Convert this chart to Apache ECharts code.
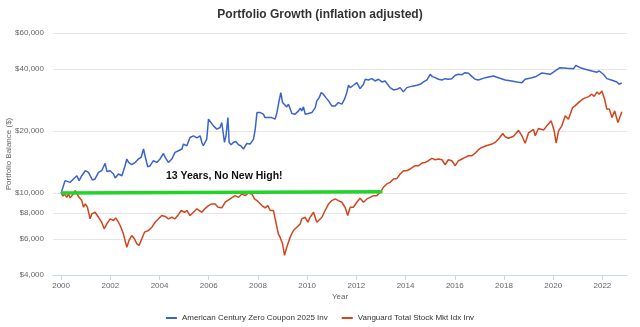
<!DOCTYPE html>
<html>
<head>
<meta charset="utf-8">
<script src="https://cdn.jsdelivr.net/npm/echarts@6/dist/echarts.min.js"></script>
<style>
html,body{margin:0;padding:0;background:#fff;}
#c{width:640px;height:327px;}
</style>
</head>
<body>
<div id="c"></div>
<script>
// ---- Data (decimal year, inflation-adjusted balance in $) ----
const blueName = 'American Century Zero Coupon 2025 Inv';
const redName = 'Vanguard Total Stock Mkt Idx Inv';

const blueDates = [
  2000.00,2000.16,2000.23,2000.37,2000.50,2000.64,2000.73,2000.84,2000.98,
  2001.11,2001.18,2001.27,2001.38,2001.52,2001.65,2001.79,2001.86,2001.99,
  2002.13,2002.20,2002.33,2002.47,2002.60,2002.67,2002.74,2002.87,
  2003.01,2003.14,2003.25,2003.35,2003.41,2003.52,2003.62,2003.75,2003.89,
  2004.02,2004.16,2004.23,2004.36,2004.50,2004.63,2004.77,2004.91,2004.97,
  2005.11,2005.24,2005.38,2005.52,2005.65,2005.72,2005.78,2005.92,2005.99,
  2006.06,2006.19,2006.33,2006.46,2006.53,2006.64,2006.70,2006.78,2006.83,2006.91,
  2007.00,2007.10,2007.21,2007.30,2007.41,2007.55,2007.68,2007.82,2007.89,2007.96,
  2008.09,2008.22,2008.29,2008.43,2008.56,2008.63,2008.70,2008.77,2008.86,2008.93,
  2009.00,2009.08,2009.17,2009.24,2009.38,2009.51,2009.65,2009.72,2009.78,2009.85,2009.92,
  2010.05,2010.19,2010.33,2010.39,2010.49,2010.57,2010.66,2010.76,2010.87,
  2011.00,2011.14,2011.27,2011.34,2011.41,2011.52,2011.61,2011.68,2011.75,2011.88,
  2012.02,2012.15,2012.29,2012.36,2012.49,2012.63,2012.76,2012.90,
  2013.04,2013.17,2013.24,2013.37,2013.51,2013.65,2013.78,2013.91,
  2014.05,2014.19,2014.32,2014.46,2014.59,2014.73,2014.87,
  2015.00,2015.09,2015.20,2015.34,2015.48,2015.61,2015.74,2015.88,
  2016.02,2016.15,2016.29,2016.42,2016.56,2016.70,2016.83,2016.96,
  2017.24,2017.57,2017.80,
  2018.05,2018.32,2018.52,2018.73,2018.86,
  2019.13,2019.31,2019.54,2019.88,
  2020.08,2020.28,2020.56,2020.83,2020.92,
  2021.10,2021.30,2021.57,2021.78,2021.87,
  2022.04,2022.18,2022.39,2022.59,2022.68,2022.79
];
const blueValues = [
  10000,11500,11720,11280,11720,12150,11500,12150,12850,
  12610,12150,11590,11720,12610,12850,13950,12750,12850,
  12390,11850,12390,12150,13590,14650,14100,13740,
  14100,14650,14910,16380,15190,13440,13590,14370,14100,
  14650,15590,14910,14100,14650,15770,16070,16380,17310,
  16990,18630,18990,18570,18990,17630,16990,18310,22880,
  23290,21230,20470,20840,22040,17630,18990,23290,17630,17180,
  17630,17830,17180,16990,16380,17430,17310,18310,20470,24630,
  24630,24200,23290,23290,23290,23740,22880,24630,28070,30790,
  27540,27050,26250,27050,24360,24200,25100,25870,25100,26250,24200,
  24360,24630,26050,28070,29120,30790,30250,29120,28070,
  26540,26540,27540,28070,27050,28610,30790,33440,32550,33440,
  34430,32200,33810,35760,35470,36000,35080,35760,
  34690,35080,35470,32550,31710,31980,32550,31040,
  32550,32930,33180,33440,33810,34690,35470,
  37810,36830,36400,35760,35470,36000,35760,36000,
  37390,37810,37640,38490,38230,36830,35760,35470,
  36400,37100,36270,
  35470,35080,34690,34430,35760,
  36400,36890,38360,37810,
  39230,40700,40410,40250,41800,
  40700,39980,39230,38700,39230,
  37810,36000,35350,34690,33810,34310
];

const redDates = [
  2000.00,2000.08,2000.13,2000.23,2000.30,2000.37,2000.46,2000.57,2000.64,2000.73,2000.84,2000.91,2000.98,
  2001.07,2001.18,2001.25,2001.38,2001.52,2001.65,2001.75,2001.86,2001.99,
  2002.13,2002.22,2002.33,2002.40,2002.53,2002.67,2002.76,2002.87,2002.98,
  2003.08,2003.17,2003.28,2003.39,2003.55,2003.69,2003.82,2003.96,
  2004.09,2004.23,2004.36,2004.50,2004.63,2004.74,2004.88,
  2005.01,2005.11,2005.24,2005.38,2005.52,2005.72,2005.85,2005.99,
  2006.12,2006.26,2006.38,2006.53,2006.67,2006.87,
  2007.07,2007.21,2007.35,2007.48,2007.61,2007.75,2007.86,2007.96,
  2008.02,2008.16,2008.29,2008.40,2008.50,2008.63,2008.70,2008.83,2008.90,
  2009.00,2009.08,2009.17,2009.31,2009.44,2009.58,2009.72,2009.78,2009.92,
  2010.03,2010.12,2010.26,2010.39,2010.46,2010.60,2010.73,2010.87,
  2011.00,2011.14,2011.27,2011.41,2011.54,2011.65,2011.75,2011.88,
  2012.02,2012.15,2012.29,2012.43,2012.56,2012.70,2012.83,2012.97,
  2013.10,2013.24,2013.37,2013.51,2013.65,2013.78,2013.91,
  2014.05,2014.19,2014.39,2014.53,2014.67,2014.80,2014.93,
  2015.07,2015.20,2015.34,2015.48,2015.61,2015.74,2015.88,
  2016.02,2016.15,2016.29,2016.42,2016.56,2016.70,2016.83,2016.96,
  2017.10,2017.28,2017.51,2017.64,2017.78,2017.95,
  2018.05,2018.18,2018.39,2018.59,2018.73,2018.86,
  2019.00,2019.20,2019.27,2019.40,2019.61,2019.74,2019.92,
  2020.04,2020.12,2020.22,2020.35,2020.49,2020.62,2020.79,2020.89,
  2021.06,2021.23,2021.44,2021.57,2021.67,2021.78,2021.87,2021.98,
  2022.09,2022.18,2022.28,2022.39,2022.50,2022.63,2022.79
];
const redValues = [
  10000,9670,9910,9540,9910,9480,9780,10280,9910,9540,9200,8540,8860,
  8540,7500,7930,8070,7630,7220,6710,7090,7500,
  7360,7580,7220,6960,6340,5460,5890,6220,6000,
  5670,5570,6000,6460,6580,6830,7220,7500,
  7780,7700,7500,7630,7500,7780,8230,
  8070,8230,7780,8070,8390,8070,8410,8700,
  8860,8860,8540,8480,9030,9370,
  9720,9540,9910,9720,10020,9910,9370,9200,
  9030,8700,8480,8700,8230,8230,7500,6340,6110,
  5670,4980,5460,6110,6580,6830,7090,7500,7630,
  7220,7630,8070,7220,7220,7630,8230,8860,
  9200,9370,9200,9030,8540,7780,8540,8540,
  9030,9440,9030,9370,9540,9720,9720,10090,
  10670,11080,11280,11720,11790,12390,12850,
  12850,13100,13590,13590,14010,14100,14370,
  14750,14530,14650,14530,13740,14530,14370,
  13590,14370,14650,14910,15190,15190,15630,16250,
  16670,16990,17310,17630,18310,19490,
  18780,18470,18890,20200,18990,17470,
  19640,20420,18990,20600,20260,21230,22450,
  20080,17510,20080,21230,23740,22880,26050,26540,
  27760,28800,29450,30250,29510,31040,30250,31380,
  28610,25590,25670,23290,25100,22040,24830
];

// "No new high" reference line
const highDates = [2000.00, 2013.06];
const highValues = [10000, 10150];
const annotationText = '13 Years, No New High!';
const annotationAt = [2006.63, 12150];

// Axis ticks
const xTicks = [2000,2002,2004,2006,2008,2010,2012,2014,2016,2018,2020,2022];
const yTicks = [4000,6000,8000,10000,20000,40000,60000];

// ---- Chart ----
const pair = (ts, vs) => ts.map((t, i) => [t, vs[i]]);
const FONT = '"Liberation Sans", Arial, Helvetica, sans-serif';

const chart = echarts.init(document.getElementById('c'));
chart.setOption({
  animation: false,
  backgroundColor: '#ffffff',
  textStyle: { fontFamily: FONT },
  title: {
    text: 'Portfolio Growth (inflation adjusted)',
    left: 'center', top: 9, padding: 0,
    textStyle: { fontSize: 12, fontWeight: 'bold', color: '#333333', fontFamily: FONT }
  },
  legend: {
    data: [blueName, redName],
    left: 'center', top: 314, padding: 0,
    icon: 'rect', itemWidth: 11, itemHeight: 2, itemGap: 14,
    textStyle: { fontSize: 8, color: '#333333', fontFamily: FONT }
  },
  grid: { left: 53, right: 13, top: 33, bottom: 52, containLabel: false, outerBoundsMode: 'none' },
  xAxis: {
    type: 'value', min: 1999.67, max: 2023.0,
    name: 'Year', nameLocation: 'middle', nameGap: 18, nameMoveOverlap: false,
    nameTextStyle: { fontSize: 8, color: '#666666', fontFamily: FONT },
    axisLine: { show: true, lineStyle: { color: '#ccd6eb', width: 1 } },
    axisTick: { show: true, length: 5, customValues: xTicks, lineStyle: { color: '#ccd6eb' } },
    axisLabel: { customValues: xTicks, fontSize: 8, color: '#666666', margin: 7, formatter: v => String(Math.round(v)), fontFamily: FONT },
    splitLine: { show: false }
  },
  yAxis: {
    type: 'log', logBase: 10, min: 4000, max: 60000,
    name: 'Portfolio Balance ($)', nameLocation: 'middle', nameGap: 40, nameMoveOverlap: false,
    nameTextStyle: { fontSize: 8, color: '#666666', fontFamily: FONT },
    axisLine: { show: false },
    axisTick: { show: false, customValues: yTicks },
    axisLabel: { customValues: yTicks, fontSize: 8, color: '#666666', margin: 9, fontFamily: FONT,
      formatter: v => '$' + Math.round(v).toLocaleString('en-US') },
    splitLine: { show: true, lineStyle: { color: '#e6e6e6', width: 1 } }
  },
  series: [
    { name: blueName, type: 'line', data: pair(blueDates, blueValues), showSymbol: false, symbol: 'none',
      lineStyle: { color: '#3b63cf', width: 1.5 }, itemStyle: { color: '#3b63cf' }, z: 2 },
    { name: redName, type: 'line', data: pair(redDates, redValues), showSymbol: false, symbol: 'none',
      lineStyle: { color: '#d2461e', width: 1.5 }, itemStyle: { color: '#d2461e' }, z: 3 },
    { name: 'No New High', type: 'line', data: pair(highDates, highValues), showSymbol: false, symbol: 'none',
      lineStyle: { color: '#22d42a', width: 3.5 }, z: 4,
      markPoint: {
        symbol: 'circle', symbolSize: 0, silent: true,
        data: [{ coord: annotationAt }],
        label: { show: true, position: 'inside', formatter: annotationText,
          fontSize: 10.5, fontWeight: 'bold', color: '#111111', fontFamily: FONT }
      }
    }
  ]
});
</script>
</body>
</html>
